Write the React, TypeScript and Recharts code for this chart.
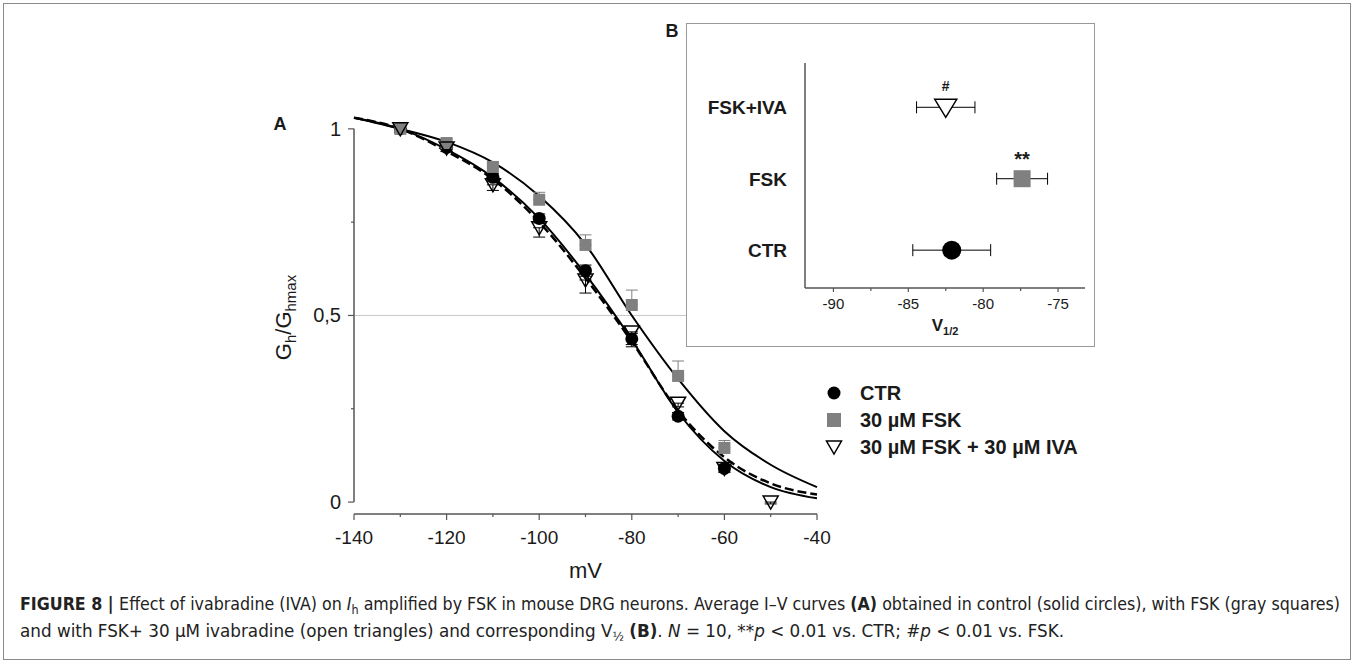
import React from 'react';
import {
  ComposedChart,
  Line,
  Scatter,
  ScatterChart,
  XAxis,
  YAxis,
  ErrorBar,
  ReferenceLine,
  Legend,
  Label
} from 'recharts';

const SANS = '"Liberation Sans", Arial, Helvetica, sans-serif';
const NARROW = '"Liberation Sans Narrow", "DejaVu Sans Condensed", "Liberation Sans", sans-serif';
const INK = '#1a1a1a';
const AXIS = '#555';
const GRAY = '#808080';

// panel A: fitted curves, every 10 mV
const fitVoltages = [-140, -130, -120, -110, -100, -90, -80, -70, -60, -50, -40];
const fitCtr = [1.03, 1.0, 0.945, 0.87, 0.76, 0.61, 0.435, 0.24, 0.11, 0.04, 0.01];
const fitFsk = [1.03, 1.0, 0.965, 0.91, 0.82, 0.69, 0.5, 0.33, 0.19, 0.1, 0.04];
const fitIva = [1.03, 1.0, 0.94, 0.865, 0.75, 0.6, 0.43, 0.245, 0.12, 0.05, 0.02];

// panel A: measured means (Gh/Ghmax) and SEM
const stepVoltages = [-130, -120, -110, -100, -90, -80, -70, -60, -50];
const ctrMean = [1.0, 0.95, 0.87, 0.76, 0.62, 0.437, 0.23, 0.09];
const ctrErr = [0.01, 0.01, 0.01, 0.012, 0.015, 0.015, 0.01, 0.01];
const fskMean = [1.0, 0.962, 0.898, 0.81, 0.689, 0.528, 0.338, 0.145];
const fskErr = [0.01, 0.01, 0.01, 0.02, 0.027, 0.04, 0.04, 0.02];
const ivaMean = [1.0, 0.949, 0.85, 0.735, 0.595, 0.456, 0.265, 0.09, 0.0];
const ivaErr = [0.01, 0.01, 0.015, 0.025, 0.035, 0.04, 0.01, 0.01, 0.005];

const mainXTicks = [-140, -130, -120, -110, -100, -90, -80, -70, -60, -50, -40];
const mainYTicks = [0, 0.25, 0.5, 0.75, 1];
const mainYLabelled = [0, 0.5, 1];

const legendNames = ['CTR', '30 µM FSK', '30 µM FSK + 30 µM IVA'];

// panel B: V1/2 per condition
const groups = ['CTR', 'FSK', 'FSK+IVA'];
const groupRow = [1, 2, 3];
const halfAct = [-82.1, -77.4, -82.5];
const halfActErr = [2.6, 1.7, 1.95];
const significance = ['', '**', '#'];
const insetXTicks = [-90, -87.5, -85, -82.5, -80, -77.5, -75];

const fitRows = fitVoltages.map((v, i) => ({ v, ctr: fitCtr[i], fsk: fitFsk[i], iva: fitIva[i] }));
const ctrPoints = ctrMean.map((g, i) => ({ v: stepVoltages[i], g, err: [ctrErr[i], ctrErr[i]] }));
const fskPoints = fskMean.map((g, i) => ({ v: stepVoltages[i], g, err: [0, fskErr[i]] }));
const ivaPoints = ivaMean.map((g, i) => ({ v: stepVoltages[i], g, err: [ivaErr[i], 0] }));
const insetRows = groups.map((name, i) => ({
  name,
  x: halfAct[i],
  y: groupRow[i],
  err: halfActErr[i],
  sig: significance[i]
}));

function MainXTick({ x, y, payload }: any) {
  const major = payload.value % 20 === 0;
  return (
    <g>
      <line x1={x} x2={x} y1={y} y2={y + (major ? 6 : 3)} stroke={AXIS} strokeWidth={1.2} />
      {major && (
        <text x={x} y={y + 30} textAnchor="middle" fontSize={19} fontFamily={SANS} fill={INK}>
          {payload.value}
        </text>
      )}
    </g>
  );
}

function MainYTick({ x, y, payload }: any) {
  const major = mainYLabelled.includes(payload.value);
  return (
    <g>
      <line x1={x - (major ? 6 : 3)} x2={x} y1={y} y2={y} stroke={AXIS} strokeWidth={1.2} />
      {major && (
        <text x={x - 13} y={y + 7} textAnchor="end" fontSize={20} fontFamily={SANS} fill={INK}>
          {String(payload.value).replace('.', ',')}
        </text>
      )}
    </g>
  );
}

function GTitle({ viewBox }: any) {
  const cx = viewBox.x - 31;
  const cy = viewBox.y + viewBox.height / 2 + 11;
  return (
    <text
      x={cx}
      y={cy + 8}
      transform={`rotate(-90 ${cx} ${cy})`}
      textAnchor="middle"
      fontSize={22}
      fontFamily={SANS}
      fill={INK}
    >
      G<tspan dy={5} fontSize={15}>h</tspan>
      <tspan dy={-5}>/G</tspan>
      <tspan dy={5} fontSize={15}>hmax</tspan>
    </text>
  );
}

function MvTitle({ viewBox }: any) {
  return (
    <text x={viewBox.x + viewBox.width / 2} y={viewBox.y + 64} textAnchor="middle" fontSize={22} fontFamily={SANS} fill={INK}>
      mV
    </text>
  );
}

function CircleMark({ cx, cy }: any) {
  return <circle cx={cx} cy={cy} r={6.5} fill="#000" />;
}

function SquareMark({ cx, cy }: any) {
  return <rect x={cx - 6} y={cy - 6} width={12} height={12} fill={GRAY} />;
}

function TriangleMark({ cx, cy }: any) {
  return (
    <path
      d={`M${cx - 7.5},${cy - 6} L${cx + 7.5},${cy - 6} L${cx},${cy + 7} Z`}
      fill="none"
      stroke="#000"
      strokeWidth={1.5}
    />
  );
}

function LegendBox() {
  return (
    <svg width={280} height={80}>
      {legendNames.map((name, i) => {
        const cy = 13 + i * 27;
        return (
          <g key={name}>
            {i === 0 && <circle cx={14} cy={cy} r={6.5} fill="#000" />}
            {i === 1 && <rect x={7} y={cy - 7} width={14} height={14} fill={GRAY} />}
            {i === 2 && (
              <path d={`M6.5,${cy - 6} L21.5,${cy - 6} L14,${cy + 7} Z`} fill="none" stroke="#000" strokeWidth={1.5} />
            )}
            <text x={40} y={cy + 7} fontSize={20} fontWeight="bold" fontFamily={SANS} fill={INK}>
              {name}
            </text>
          </g>
        );
      })}
    </svg>
  );
}

function InsetXTick({ x, y, payload }: any) {
  const major = payload.value % 5 === 0;
  return (
    <g>
      <line x1={x} x2={x} y1={y} y2={y + (major ? 4 : 3)} stroke={AXIS} strokeWidth={1.2} />
      {major && (
        <text x={x} y={y + 21} textAnchor="middle" fontSize={15} fontFamily={SANS} fill={INK}>
          {payload.value}
        </text>
      )}
    </g>
  );
}

function InsetYTick({ x, y, payload }: any) {
  return (
    <text x={x - 18} y={y + 7} textAnchor="end" fontSize={19} fontWeight="bold" fontFamily={SANS} fill={INK}>
      {groups[payload.value - 1]}
    </text>
  );
}

function HalfTitle({ viewBox }: any) {
  return (
    <text x={viewBox.x + viewBox.width / 2} y={viewBox.y + 43} textAnchor="middle" fontSize={17} fontWeight="bold" fontFamily={SANS} fill={INK}>
      V<tspan dy={4} fontSize={11}>1/2</tspan>
    </text>
  );
}

function SigText({ cx, cy, payload }: any) {
  if (!payload.sig) return null;
  const big = payload.sig === '**';
  return (
    <text x={cx} y={cy - (big ? 13 : 16)} textAnchor="middle" fontSize={big ? 20 : 14} fontWeight="bold" fontFamily={SANS} fill={INK}>
      {payload.sig}
    </text>
  );
}

function InsetCircle(p: any) {
  return (
    <g>
      <circle cx={p.cx} cy={p.cy} r={9.5} fill="#000" />
      <SigText {...p} />
    </g>
  );
}

function InsetSquare(p: any) {
  return (
    <g>
      <rect x={p.cx - 8.5} y={p.cy - 8.5} width={17} height={17} fill={GRAY} />
      <SigText {...p} />
    </g>
  );
}

function InsetTriangle(p: any) {
  return (
    <g>
      <path
        d={`M${p.cx - 11},${p.cy - 8} L${p.cx + 11},${p.cy - 8} L${p.cx},${p.cy + 10} Z`}
        fill="#fff"
        stroke="#000"
        strokeWidth={1.5}
      />
      <SigText {...p} />
    </g>
  );
}

export default function App() {
  return (
    <div style={{ position: 'absolute', left: 0, top: 0, width: 1360, height: 664, background: '#fff', fontFamily: SANS }}>
      <div style={{ position: 'absolute', left: 0, top: 0, zIndex: 1 }}>
        <ComposedChart width={850} height={600} data={fitRows} margin={{ top: 99, right: 33, bottom: 56, left: 314 }}>
          <XAxis
            dataKey="v"
            type="number"
            domain={[-140, -40]}
            ticks={mainXTicks}
            interval={0}
            tick={<MainXTick />}
            tickLine={false}
            tickSize={0}
            tickMargin={0}
            height={30}
            axisLine={{ stroke: AXIS, strokeWidth: 1.5 }}
            label={<Label content={MvTitle} />}
          />
          <YAxis
            type="number"
            domain={[-0.032, 1.08]}
            ticks={mainYTicks}
            interval={0}
            tick={<MainYTick />}
            tickLine={false}
            tickSize={0}
            tickMargin={0}
            width={40}
            axisLine={false}
            label={<Label content={GTitle} />}
          />
          <ReferenceLine y={0.5} stroke="#c8c8c8" strokeWidth={1} />
          <ReferenceLine segment={[{ x: -140, y: 0 }, { x: -140, y: 1 }]} stroke={AXIS} strokeWidth={1.5} />
          <Line dataKey="fsk" type="monotone" stroke="#000" strokeWidth={2} dot={false} isAnimationActive={false} />
          <Line dataKey="ctr" type="monotone" stroke="#000" strokeWidth={2} dot={false} isAnimationActive={false} />
          <Line
            dataKey="iva"
            type="monotone"
            stroke="#000"
            strokeWidth={2.5}
            strokeDasharray="9 4"
            dot={false}
            isAnimationActive={false}
          />
          <Scatter data={ctrPoints} dataKey="g" shape={CircleMark} isAnimationActive={false}>
            <ErrorBar dataKey="err" direction="y" width={6} stroke="#000" strokeWidth={1} />
          </Scatter>
          <Scatter data={fskPoints} dataKey="g" shape={SquareMark} isAnimationActive={false}>
            <ErrorBar dataKey="err" direction="y" width={6} stroke={GRAY} strokeWidth={1} />
          </Scatter>
          <Scatter data={ivaPoints} dataKey="g" shape={TriangleMark} isAnimationActive={false}>
            <ErrorBar dataKey="err" direction="y" width={6} stroke="#000" strokeWidth={1} />
          </Scatter>
          <Legend
            content={<LegendBox />}
            layout="vertical"
            align="center"
            verticalAlign="middle"
            wrapperStyle={{ left: 820, top: 380, width: 280 }}
          />
        </ComposedChart>
      </div>

      <div
        style={{
          position: 'absolute',
          left: 686,
          top: 23,
          width: 409,
          height: 324,
          boxSizing: 'border-box',
          border: '1.5px solid #999',
          background: '#fff',
          zIndex: 2
        }}
      />
      <div style={{ position: 'absolute', left: 686, top: 23, zIndex: 3 }}>
        <ScatterChart width={409} height={324} margin={{ top: 40, right: 10, bottom: 19, left: 19 }}>
          <XAxis
            dataKey="x"
            type="number"
            domain={[-91.9, -73.2]}
            ticks={insetXTicks}
            interval={0}
            tick={<InsetXTick />}
            tickLine={false}
            tickSize={0}
            tickMargin={0}
            height={40}
            axisLine={{ stroke: AXIS, strokeWidth: 1.5 }}
            label={<Label content={HalfTitle} />}
          />
          <YAxis
            dataKey="y"
            type="number"
            domain={[0.47, 3.62]}
            ticks={groupRow}
            interval={0}
            tick={<InsetYTick />}
            tickLine={false}
            tickSize={0}
            tickMargin={0}
            width={100}
            axisLine={{ stroke: AXIS, strokeWidth: 1.5 }}
          />
          <Scatter data={[insetRows[0]]} shape={InsetCircle} isAnimationActive={false}>
            <ErrorBar dataKey="err" direction="x" width={6} stroke="#000" strokeWidth={1} />
          </Scatter>
          <Scatter data={[insetRows[1]]} shape={InsetSquare} isAnimationActive={false}>
            <ErrorBar dataKey="err" direction="x" width={6} stroke="#000" strokeWidth={1} />
          </Scatter>
          <Scatter data={[insetRows[2]]} shape={InsetTriangle} isAnimationActive={false}>
            <ErrorBar dataKey="err" direction="x" width={6} stroke="#000" strokeWidth={1} />
          </Scatter>
        </ScatterChart>
      </div>

      <svg width={1360} height={664} style={{ position: 'absolute', left: 0, top: 0, zIndex: 4, pointerEvents: 'none' }}>
        <rect x={3.5} y={3.5} width={1347} height={656} fill="none" stroke="#8a8a8a" strokeWidth={1} />
        <text x={280} y={130} textAnchor="middle" fontSize={18} fontWeight="bold" fontFamily={SANS} fill={INK}>
          A
        </text>
        <text x={672} y={37} textAnchor="middle" fontSize={18} fontWeight="bold" fontFamily={SANS} fill={INK}>
          B
        </text>
        <text x={20} y={610} fontSize={17} fontFamily={NARROW} fill="#222" textLength={1320} lengthAdjust="spacingAndGlyphs">
          <tspan fontWeight="bold">FIGURE 8 | </tspan>
          <tspan>Effect of ivabradine (IVA) on </tspan>
          <tspan fontStyle="italic">I</tspan>
          <tspan dy={4} fontSize={12}>h</tspan>
          <tspan dy={-4}> amplified by FSK in mouse DRG neurons. Average I–V curves </tspan>
          <tspan fontWeight="bold">(A)</tspan>
          <tspan> obtained in control (solid circles), with FSK (gray squares)</tspan>
        </text>
        <text x={20} y={637} fontSize={17} fontFamily={NARROW} fill="#222" textLength={1044} lengthAdjust="spacingAndGlyphs">
          <tspan>and with FSK+ 30 μM ivabradine (open triangles) and corresponding V</tspan>
          <tspan dy={4} fontSize={12}>½</tspan>
          <tspan dy={-4}> </tspan>
          <tspan fontWeight="bold">(B)</tspan>
          <tspan>. </tspan>
          <tspan fontStyle="italic">N</tspan>
          <tspan> = 10, **</tspan>
          <tspan fontStyle="italic">p</tspan>
          <tspan> &lt; 0.01 vs. CTR; #</tspan>
          <tspan fontStyle="italic">p</tspan>
          <tspan> &lt; 0.01 vs. FSK.</tspan>
        </text>
      </svg>
    </div>
  );
}
